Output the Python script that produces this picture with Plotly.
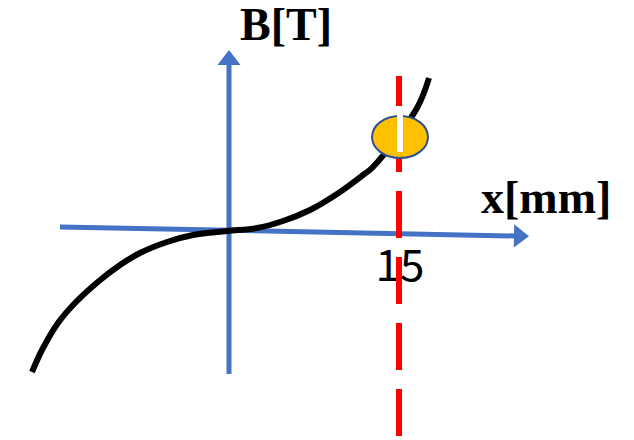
import plotly.graph_objects as go

# Diagram units: 1 unit = 1 px, origin at the axis crossing, y upwards
curve_x = [-197, -187, -171, -154, -130, -109, -89, -62, -36, -2, 28, 54, 81, 108, 134, 144, 188, 200]
curve_y = [-141, -119, -92, -72, -50, -34, -22, -11, -4, 0, 3, 10, 21, 37, 56, 64, 123, 153]

haxis_x = [-169, 287]
haxis_y = [4, -5]
vaxis_x = [0, 0]
vaxis_y = [-143, 168]

marker_x = 170          # position of "15"
marker_pt_y = 94
x_label = "x[mm]"
y_label = "B[T]"
tick_label = "15"

BLUE = "#4472C4"

fig = go.Figure()

# axes lines
fig.add_trace(go.Scatter(x=haxis_x, y=haxis_y, mode="lines",
                         line=dict(color=BLUE, width=5), hoverinfo="skip"))
fig.add_trace(go.Scatter(x=vaxis_x, y=vaxis_y, mode="lines",
                         line=dict(color=BLUE, width=5), hoverinfo="skip"))
# arrowheads
fig.add_trace(go.Scatter(x=[haxis_x[1] + 3], y=[haxis_y[1]], mode="markers",
                         marker=dict(symbol="triangle-right", size=20, color=BLUE, angle=1),
                         hoverinfo="skip"))
fig.add_trace(go.Scatter(x=[vaxis_x[1]], y=[vaxis_y[1] + 3], mode="markers",
                         marker=dict(symbol="triangle-up", size=20, color=BLUE),
                         hoverinfo="skip"))

# curve
fig.add_trace(go.Scatter(x=curve_x, y=curve_y, mode="lines",
                         line=dict(color="black", width=6, shape="spline", smoothing=1.0),
                         hoverinfo="skip"))

# tick label "15" (as a trace so the red line is drawn above it)
fig.add_trace(go.Scatter(x=[marker_x + 1], y=[-39], mode="text", text=[tick_label],
                         textfont=dict(family="Noto Sans CJK SC", size=44, color="black"),
                         hoverinfo="skip"))

# red dashed line
fig.add_shape(type="line", x0=marker_x, x1=marker_x, y0=155, y1=-215,
              line=dict(color="#FF0000", width=6,
                        dash="30px,19px,47px,19px,47px,19px,47px,19px,47px,19px,47px,19px"),
              layer="above")
# ellipse
fig.add_shape(type="circle", x0=marker_x + 1 - 28, x1=marker_x + 1 + 28,
              y0=marker_pt_y - 21, y1=marker_pt_y + 21,
              fillcolor="#FFC000", line=dict(color="#2F528F", width=2), layer="above")
# white bar inside ellipse
fig.add_shape(type="line", x0=marker_x + 1, x1=marker_x + 1, y0=116, y1=79,
              line=dict(color="white", width=6), layer="above")

# labels
fig.add_annotation(x=57, y=207, text="<b>" + y_label + "</b>", showarrow=False,
                   font=dict(family="Liberation Serif", size=46, color="black"),
                   xanchor="center", yanchor="middle")
fig.add_annotation(x=317, y=34, text="<b>" + x_label + "</b>", showarrow=False,
                   font=dict(family="Liberation Serif", size=46, color="black"),
                   xanchor="center", yanchor="middle")

fig.update_layout(
    width=634, height=440,
    margin=dict(l=0, r=0, t=0, b=0),
    paper_bgcolor="white", plot_bgcolor="white",
    showlegend=False,
    xaxis=dict(range=[-229, 405], visible=False, fixedrange=True),
    yaxis=dict(range=[-209, 231], visible=False, fixedrange=True),
)

fig.write_html("out.html", config={"displayModeBar": False},
               post_script="document.body.style.margin='0px';")
